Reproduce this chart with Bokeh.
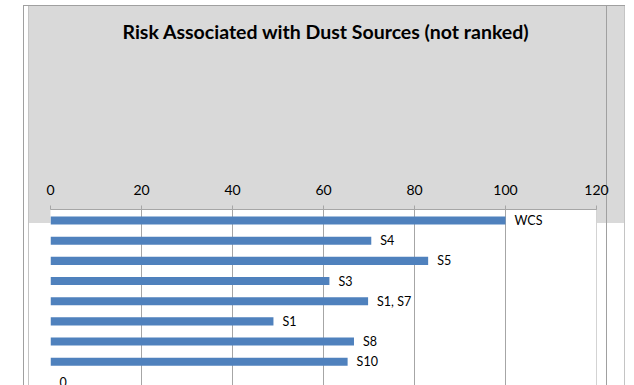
from bokeh.plotting import figure
from bokeh.models import ColumnDataSource, Range1d, FixedTicker, Grid, Title
from bokeh.embed import file_html
from bokeh.resources import INLINE
from bokeh.core.properties import value

title_text = "Risk Associated with Dust Sources  (not ranked)"
categories = ["WCS", "S4", "S5", "S3", "S1, S7", "S1", "S8", "S10", "0"]
values = [100, 70.5, 83, 61.3, 69.8, 49, 66.7, 65.3, 0]
ticks = [0, 20, 40, 60, 80, 100, 120]

source = ColumnDataSource(dict(
    y=list(range(len(categories))),
    v=values,
    label=categories,
))

p = figure(width=634, height=385, output_backend="svg", toolbar_location=None,
           x_range=Range1d(0, 120), y_range=Range1d(8.18, -0.546),
           x_axis_location="above", y_axis_location=None,
           min_border_left=50, min_border_right=38, min_border_top=209,
           min_border_bottom=0)
p.border_fill_color = None
p.background_fill_color = "white"
p.outline_line_color = None

GRAY = "#d9d9d9"
LINE_D = "#a0a0a0"
LINE_L = "#c4c4c4"


def layer(color, x, y, w, h):
    return f"linear-gradient({color},{color}) {x}px {y}px / {w}px {h}px no-repeat"


bg = ", ".join([
    layer(LINE_D, 23, 5, 602, 1),
    layer(LINE_D, 23, 5, 1, 380),
    layer(LINE_L, 28, 5, 1, 380),
    layer("#a6a6a6", 596, 209, 1, 176),
    layer(LINE_D, 606, 5, 1, 380),
    layer(LINE_L, 624, 5, 1, 380),
    layer(GRAY, 28, 5, 597, 218),
]) + ", white"
p.styles = {"background": bg}

p.hbar(y="y", right="v", left=0, height=0.4, source=source,
       fill_color="#4f81bd", line_color=None)
p.text(x="v", y="y", text="label", source=source, x_offset=9,
       text_align="left", text_baseline="middle",
       text_font=value("Lato"), text_font_size="12.5px", text_color="#000000")

ax = p.xaxis[0]
ax.ticker = FixedTicker(ticks=ticks)
ax.axis_line_color = "#a6a6a6"
ax.major_tick_line_color = "#a6a6a6"
ax.major_tick_out = 4
ax.major_tick_in = 0
ax.minor_tick_line_color = None
ax.major_label_standoff = 11
ax.major_label_text_font = "Lato"
ax.major_label_text_font_size = "14px"
ax.major_label_text_color = "#000000"

for g in p.select(type=Grid):
    if g.dimension == 1:
        g.visible = False
    else:
        g.grid_line_color = "#a6a6a6"
        g.ticker = FixedTicker(ticks=ticks)

# spacer between axis and title
p.add_layout(Title(text=" ", text_font_size="10px", standoff=108), "above")

p.title.text = title_text
p.title.align = "left"
p.title.offset = 72
p.title.vertical_align = "middle"
p.title.standoff = 34
p.title.text_font = "Lato"
p.title.text_font_style = "bold"
p.title.text_font_size = "19.5px"
p.title.text_color = "#000000"

open("out.html", "w").write(file_html(p, INLINE))
